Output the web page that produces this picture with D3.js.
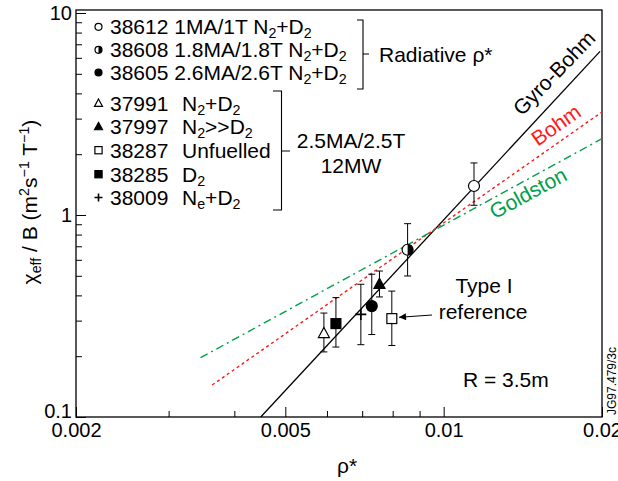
<!DOCTYPE html>
<html><head><meta charset="utf-8">
<script src="https://cdn.jsdelivr.net/npm/d3@7"></script>
<style>body{margin:0;background:#fff}svg{display:block}</style>
</head><body><svg id="c" width="618" height="481"></svg>
<script>
// ---- data ----
const shots = ["38612","38608","38605","37991","37997","38287","38285","38009"];
const markerTypes = ["openCircle","halfCircle","filledCircle","openTri","filledTri","openSquare","filledSquare","plus"];
const rhoStar = [0.01142, 0.00854, 0.00730, 0.00592, 0.00755, 0.00797, 0.00624, 0.00696];
const chiB    = [1.392, 0.673, 0.354, 0.259, 0.454, 0.307, 0.290, 0.322];
const errHigh = [1.81, 0.906, 0.509, 0.327, 0.528, 0.420, 0.390, 0.454];
const errLow  = [1.117, 0.499, 0.256, 0.210, 0.393, 0.226, 0.222, 0.228];
const group1Desc = ["1MA/1T", "1.8MA/1.8T", "2.6MA/2.6T"];
const group2Desc = ["N2+D2", "N2>>D2", "Unfuelled", "D2", "Ne+D2"];
const gyroBohmRho = [0.00449, 0.01983], gyroBohmChi = [0.1, 6.46];
const bohmRho = [0.00363, 0.02], bohmChi = [0.144, 3.236];
const goldstonRho = [0.00345, 0.02], goldstonChi = [0.1966, 2.386];
const xMajor = [0.002, 0.005, 0.01, 0.02];
const xMinor = [0.003, 0.004, 0.006, 0.007, 0.008, 0.009];
const yMajor = [0.1, 1, 10];
const yMinor = [0.2,0.3,0.4,0.5,0.6,0.7,0.8,0.9,2,3,4,5,6,7,8,9];

const FONT = "'Liberation Sans', Arial, sans-serif";
const svg = d3.select("#c").style("font-family", FONT);
const L = 76, R = 602, T = 10, B = 417;
const x = d3.scaleLog().domain([0.002, 0.02]).range([L, R]);
const y = d3.scaleLog().domain([0.1, 10]).range([B, 13]);

// frame
svg.append("rect").attr("x", L).attr("y", T).attr("width", R - L).attr("height", B - T)
  .attr("fill", "none").attr("stroke", "#000").attr("stroke-width", 1.3);

// axes
const fmtX = d => ({0.002:"0.002",0.005:"0.005",0.01:"0.01",0.02:"0.02"})[d];
svg.append("g").attr("transform", `translate(0,${B})`)
  .call(d3.axisBottom(x).tickValues(xMajor).tickSize(-10).tickPadding(6).tickFormat(fmtX));
svg.append("g").attr("transform", `translate(0,${B})`)
  .call(d3.axisBottom(x).tickValues(xMinor).tickSize(-6).tickFormat(""));
const gy = svg.append("g").attr("transform", `translate(${L},0)`)
  .call(d3.axisLeft(y).tickValues(yMajor).tickSize(-10).tickPadding(4).tickFormat(d => d === 0.1 ? "0.1" : String(d)));
svg.append("g").attr("transform", `translate(${L},0)`)
  .call(d3.axisLeft(y).tickValues(yMinor).tickSize(-6).tickFormat(""));
svg.selectAll(".domain").remove();
svg.selectAll(".tick line").attr("stroke", "#000").attr("stroke-width", 1);
svg.selectAll(".tick text").attr("font-family", FONT).attr("font-size", 20).attr("fill", "#000");
gy.selectAll(".tick text").filter(d => d === 0.1).attr("dy", "0em");

// rich text helper
function rich(sel, parts, base) {
  parts.forEach(p => {
    const [t, k] = p;
    const ts = sel.append("tspan").text(t);
    if (k === "sub") ts.attr("font-size", base * 0.68).attr("baseline-shift", "-28%");
    else if (k === "sup") ts.attr("font-size", base * 0.68).attr("baseline-shift", "55%");
  });
}
const yl = svg.append("text").attr("transform", "translate(37,202) rotate(-90)")
  .attr("text-anchor", "middle").attr("font-size", 21);
rich(yl, [["χ"],["eff","sub"],[" / B (m"],["2","sup"],["s"],["−1","sup"],[" T"],["−1","sup"],[")"]], 21);
svg.append("text").attr("x", 347).attr("y", 473).attr("text-anchor", "middle")
  .attr("font-size", 21).text("ρ*");

// model lines
const line = d3.line().x(d => x(d[0])).y(d => y(d[1]));
svg.append("path").datum(d3.zip(gyroBohmRho, gyroBohmChi)).attr("d", line)
  .attr("stroke", "#000").attr("stroke-width", 1.3).attr("fill", "none");
svg.append("path").datum(d3.zip(bohmRho, bohmChi)).attr("d", line)
  .attr("stroke", "#ff1a1a").attr("stroke-width", 1.4).attr("stroke-dasharray", "3,3").attr("fill", "none");
svg.append("path").datum(d3.zip(goldstonRho, goldstonChi)).attr("d", line)
  .attr("stroke", "#00a04a").attr("stroke-width", 1.4).attr("stroke-dasharray", "8,4,2,4").attr("fill", "none");

svg.append("text").attr("transform", "translate(554,73) rotate(-46)").attr("text-anchor", "middle")
  .attr("dy", "0.35em").attr("font-size", 21).text("Gyro-Bohm");
svg.append("text").attr("transform", "translate(556,125) rotate(-35)").attr("text-anchor", "middle")
  .attr("dy", "0.35em").attr("font-size", 21).attr("fill", "#ff1a1a").text("Bohm");
svg.append("text").attr("transform", "translate(528,193) rotate(-28.6)").attr("text-anchor", "middle")
  .attr("dy", "0.35em").attr("font-size", 21).attr("fill", "#00a04a").text("Goldston");

// markers
function marker(g, type, cx, cy, s) {
  const sw = 1.2;
  if (type.endsWith("Circle")) {
    g.append("circle").attr("cx", cx).attr("cy", cy).attr("r", s / 2)
      .attr("fill", type === "filledCircle" ? "#000" : "#fff").attr("stroke", "#000").attr("stroke-width", sw);
    if (type === "halfCircle") {
      const r = s / 2;
      g.append("path").attr("d", `M${cx},${cy - r} A${r},${r} 0 0 1 ${cx},${cy + r} Z`).attr("fill", "#000");
    }
  } else if (type.endsWith("Tri")) {
    const h = s * 0.92, w = s;
    g.append("path").attr("d", `M${cx},${cy - h * 0.6} L${cx + w / 2},${cy + h * 0.4} L${cx - w / 2},${cy + h * 0.4} Z`)
      .attr("fill", type === "filledTri" ? "#000" : "#fff").attr("stroke", "#000").attr("stroke-width", sw);
  } else if (type.endsWith("Square")) {
    const a = s * 0.9;
    g.append("rect").attr("x", cx - a / 2).attr("y", cy - a / 2).attr("width", a).attr("height", a)
      .attr("fill", type === "filledSquare" ? "#000" : "#fff").attr("stroke", "#000").attr("stroke-width", sw);
  } else if (type === "plus") {
    const a = s * 0.5;
    g.append("path").attr("d", `M${cx - a},${cy} H${cx + a} M${cx},${cy - a} V${cy + a}`)
      .attr("stroke", "#000").attr("stroke-width", 1.6);
  }
}

// error bars + points
const pts = svg.append("g");
shots.forEach((s, i) => {
  const cx = x(rhoStar[i]), y1 = y(errHigh[i]), y2 = y(errLow[i]);
  pts.append("path").attr("d", `M${cx},${y1} V${y2} M${cx - 3.5},${y1} H${cx + 3.5} M${cx - 3.5},${y2} H${cx + 3.5}`)
    .attr("stroke", "#000").attr("stroke-width", 1).attr("fill", "none");
});
shots.forEach((s, i) => marker(pts, markerTypes[i], x(rhoStar[i]), y(chiB[i]), 11));

// legend
const leg = svg.append("g").attr("font-size", 21);
const rowY1 = [34.3, 57.3, 80];
const rowY2 = [111, 134.3, 157.7, 181.7, 205];
function chem(sel, str) {
  const parts = [];
  const re = /(N|D)(2|e)/g;
  let last = 0, m;
  while ((m = re.exec(str))) {
    if (m.index > last) parts.push([str.slice(last, m.index)]);
    parts.push([m[1]]); parts.push([m[2], "sub"]);
    last = re.lastIndex;
  }
  if (last < str.length) parts.push([str.slice(last)]);
  rich(sel, parts, 21);
}
rowY1.forEach((yy, i) => {
  marker(leg, markerTypes[i], 98.5, yy - 7.5, 7);
  const t = leg.append("text").attr("x", 110).attr("y", yy);
  t.append("tspan").text(shots[i] + " " + group1Desc[i] + " ");
  chem(t, "N2+D2");
});
rowY2.forEach((yy, j) => {
  const i = j + 3;
  marker(leg, markerTypes[i], 98.5, yy - 7.5, 8);
  leg.append("text").attr("x", 110).attr("y", yy).text(shots[i]);
  const t = leg.append("text").attr("x", 182).attr("y", yy);
  chem(t, group2Desc[j]);
});
// brackets
const br = svg.append("g").attr("stroke", "#000").attr("stroke-width", 1.1).attr("fill", "none");
br.append("path").attr("d", "M357,20 H363 V89 H357 M363,54 H369");
br.append("path").attr("d", "M273,91 H281.5 V210 H273 M281.5,151 H290");
leg.append("text").attr("x", 379).attr("y", 62).text("Radiative ρ*");
leg.append("text").attr("x", 351).attr("y", 148.3).attr("text-anchor", "middle").text("2.5MA/2.5T");
leg.append("text").attr("x", 351).attr("y", 173).attr("text-anchor", "middle").text("12MW");

// annotations
svg.append("defs").append("marker").attr("id", "ah").attr("viewBox", "0 0 10 10")
  .attr("refX", 10).attr("refY", 5).attr("markerWidth", 9).attr("markerHeight", 7)
  .attr("markerUnits", "userSpaceOnUse").attr("orient", "auto")
  .append("path").attr("d", "M0,0 L10,5 L0,10 Z").attr("fill", "#000");
svg.append("line").attr("x1", 432).attr("y1", 315).attr("x2", 399).attr("y2", 317.3)
  .attr("stroke", "#000").attr("stroke-width", 1).attr("marker-end", "url(#ah)");
svg.append("text").attr("x", 484).attr("y", 293.3).attr("text-anchor", "middle").attr("font-size", 21).text("Type I");
svg.append("text").attr("x", 483).attr("y", 319).attr("text-anchor", "middle").attr("font-size", 21).text("reference");
svg.append("text").attr("x", 463).attr("y", 387).attr("font-size", 21).text("R = 3.5m");
svg.append("text").attr("transform", "translate(616,415) rotate(-90)").attr("font-size", 12).text("JG97.479/3c");
</script></body></html>
